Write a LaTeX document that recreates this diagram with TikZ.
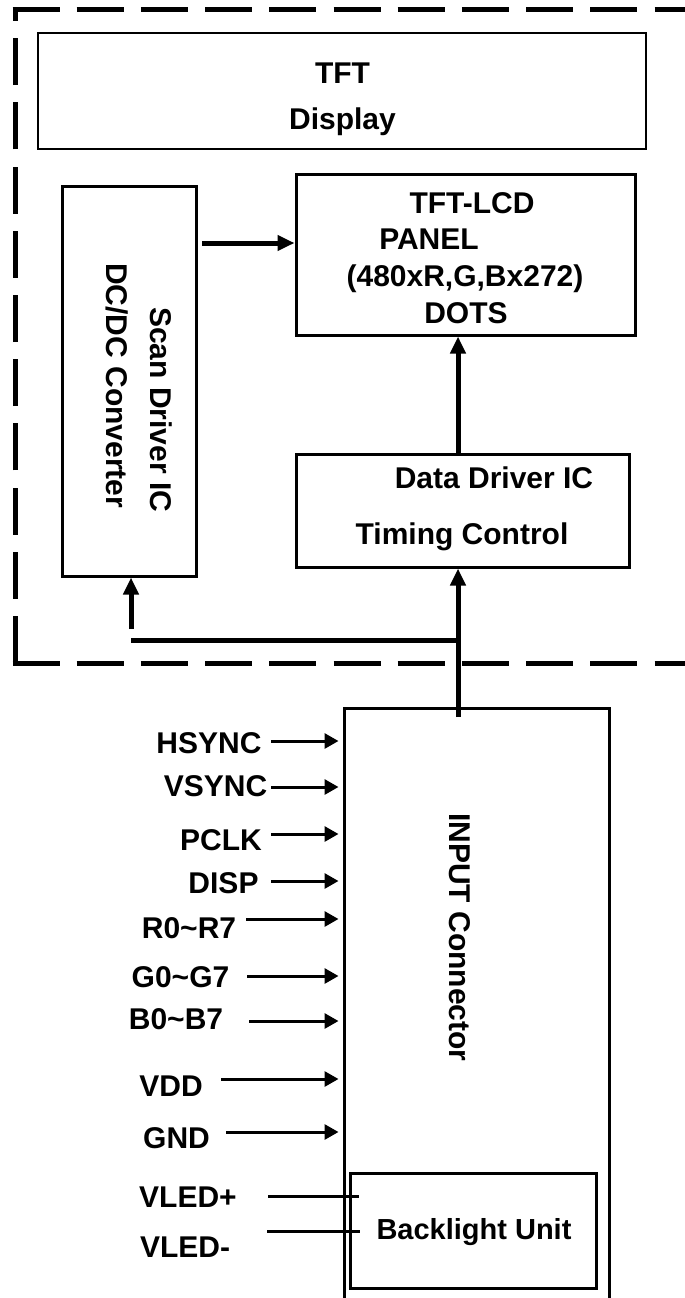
\documentclass[tikz,border=0pt]{standalone}
\usepackage{fontspec}
\setmainfont{Liberation Sans}
\usetikzlibrary{arrows.meta,calc}
\begin{document}
\begin{tikzpicture}[x=1pt,y=-1pt,
  box/.style={draw,line width=3pt,inner sep=0pt},
  lbl/.style={font=\fontsize{30}{36}\selectfont\bfseries,inner sep=0pt,anchor=base},
  rlbl/.style={font=\fontsize{30}{36}\selectfont\bfseries,inner sep=0pt,anchor=base west,rotate=-90},
  bigarrow/.style={line width=5pt,-{Triangle[length=17pt,width=15pt]}},
  sigarrow/.style={line width=3pt,-{Triangle[length=14pt,width=15pt]}},
  frame/.style={line width=5pt,dash pattern=on 47pt off 17.2pt}]
\useasboundingbox (0,0) rectangle (685,1298);

% dashed module frame
\coordinate (ftl) at (15,9.5);
\coordinate (fbl) at (15,663);
\draw[frame] (fbl) -- (ftl);
\draw[frame] (12.5,9.5) -- (700,9.5);
\draw[frame] (12.5,663) -- (700,663);

% boxes
\node[box,line width=2pt,minimum width=608pt,minimum height=116pt] (disp) at (342,91) {};
\node[box,minimum width=339pt,minimum height=161pt] (panel) at (465.5,254.5) {};
\node[box,minimum width=134pt,minimum height=390pt] (scan) at (129,381) {};
\node[box,minimum width=333pt,minimum height=113pt] (data) at (462.5,510.5) {};
\node[box,minimum width=265pt,minimum height=612pt] (input) at (476.5,1014) {};
\node[box,minimum width=246pt,minimum height=115pt] (back) at (473,1230.5) {};

% box texts
\node[lbl] (tTFT) at (342.5,83) {TFT};
\node[lbl] (tDisp) at (342.5,129) {Display};
\node[lbl] (tLCD) at (472,213) {TFT-LCD};
\node[lbl] (tPanel) at (429,249) {PANEL};
\node[lbl] (tDots1) at (465,286) {(480xR,G,Bx272)};
\node[lbl] (tDots) at (466,323) {DOTS};
\node[lbl] (tData) at (494,488) {Data Driver IC};
\node[lbl] (tTim) at (462,544) {Timing Control};
\node[lbl,font=\fontsize{29}{34}\selectfont\bfseries] (tBack) at (474,1239) {Backlight Unit};
\node[rlbl] (tScan) at (150,307) {Scan Driver IC};
\node[rlbl] (tDC) at (106,263) {DC/DC Converter};
\node[rlbl] (tIn) at (449,813) {INPUT Connector};

% internal connections
\coordinate (sp) at (202,243);
\draw[bigarrow] (sp) -- (sp -| panel.west);
\coordinate (vx) at (458,0);
\draw[bigarrow] (vx |- data.north) -- (vx |- panel.south);
\coordinate (trunk) at (458,717);
\draw[bigarrow] (trunk) -- (trunk |- data.south);
\coordinate (junc) at (458,640);
\coordinate (busw) at (131,640);
\draw[line width=5pt] (busw) -- (junc);
\coordinate (sa) at (131,629);
\draw[bigarrow] (sa) -- (sa |- scan.south);

% input signals
\foreach \n/\t/\cx/\by/\sx/\ay in {
  hs/HSYNC/209/753/271/741,
  vs/VSYNC/215.5/796/271/787,
  pc/PCLK/221/850/271/834,
  di/DISP/223.5/893/271/881,
  rr/R0\textasciitilde R7/189/938/246/919,
  gg/G0\textasciitilde G7/180.5/987/247/976,
  bb/B0\textasciitilde B7/176/1029/249/1021,
  vd/VDD/171/1096/221/1079,
  gn/GND/176.5/1148/226/1132}{
  \node[lbl] (\n) at (\cx,\by) {\t};
  \coordinate (\n A) at (\sx,\ay);
  \draw[sigarrow] (\n A) -- ($(\n A -| input.west)+(-4,0)$);
}

% backlight supply
\node[lbl] (vp) at (188,1207) {VLED+};
\coordinate (vpA) at (268,1196);
\draw[line width=3pt] (vpA) -- ($(vpA -| back.west)+(10,0)$);
\node[lbl] (vm) at (185,1257) {VLED-};
\coordinate (vmA) at (267,1231);
\draw[line width=3pt] (vmA) -- ($(vmA -| back.west)+(11,0)$);
\end{tikzpicture}
\end{document}
